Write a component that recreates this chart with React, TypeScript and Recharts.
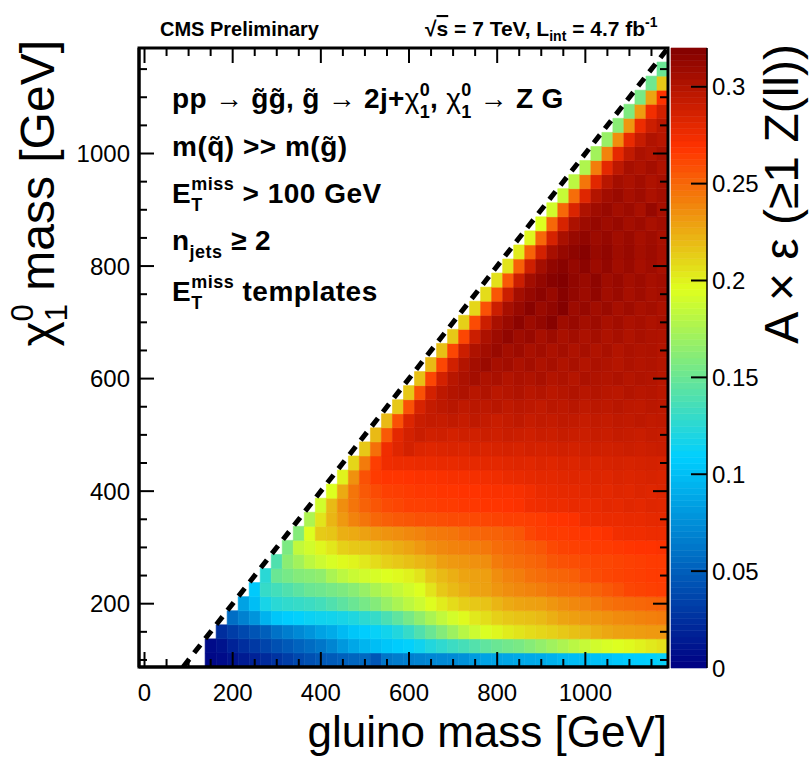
import React from 'react';
import { ComposedChart, XAxis, YAxis, ReferenceArea, ReferenceLine } from 'recharts';

// ---------------- data ----------------
// gluino mass bin centres [GeV]
const GLUINO_MASSES = [150, 175, 200, 225, 250, 275, 300, 325, 350, 375, 400, 425, 450, 475, 500, 525, 550, 575, 600, 625, 650, 675, 700, 725, 750, 775, 800, 825, 850, 875, 900, 925, 950, 975, 1000, 1025, 1050, 1075, 1100, 1125, 1150, 1175];
// neutralino mass bin centres [GeV]
const CHI_MASSES = [100, 125, 150, 175, 200, 225, 250, 275, 300, 325, 350, 375, 400, 425, 450, 475, 500, 525, 550, 575, 600, 625, 650, 675, 700, 725, 750, 775, 800, 825, 850, 875, 900, 925, 950, 975, 1000, 1025, 1050, 1075, 1100, 1125, 1150];
const BIN_WIDTH = 25;

// A x eff (x 1000) per neutralino-mass row; each row ends at the last gluino bin (1175)
const eff100 = [4, 6, 10, 14, 18, 22, 27, 32, 38, 42, 46, 48, 51, 53, 55, 45, 62, 65, 67, 69, 71, 72, 73, 76, 82, 85, 86, 87, 89, 89, 90, 93, 97, 99, 100, 101, 102, 105, 107, 108, 109, 112];
const eff125 = [6, 10, 18, 24, 30, 36, 42, 47, 52, 57, 62, 70, 80, 88, 95, 100, 104, 107, 110, 115, 122, 127, 132, 136, 141, 146, 150, 153, 156, 161, 166, 171, 176, 181, 186, 190, 193, 195, 197, 200, 203, 206];
const eff150 = [24, 32, 38, 44, 50, 60, 66, 72, 78, 85, 90, 98, 104, 108, 112, 116, 122, 130, 140, 150, 160, 170, 180, 188, 194, 198, 202, 205, 208, 210, 212, 215, 218, 220, 224, 227, 229, 230, 231, 232, 232];
const eff175 = [58, 68, 78, 94, 104, 108, 110, 113, 115, 116, 118, 121, 126, 130, 138, 146, 155, 165, 175, 184, 191, 197, 203, 207, 212, 215, 217, 218, 220, 224, 228, 230, 232, 233, 235, 237, 238, 240, 241, 242];
const eff200 = [85, 100, 118, 125, 128, 130, 132, 135, 140, 145, 150, 155, 160, 168, 175, 182, 188, 196, 202, 208, 213, 215, 217, 222, 226, 228, 229, 230, 233, 236, 238, 240, 243, 246, 248, 249, 250, 251, 252];
const eff225 = [106, 130, 135, 140, 145, 150, 152, 155, 158, 162, 168, 175, 180, 185, 190, 195, 205, 215, 220, 224, 228, 229, 233, 236, 238, 240, 242, 245, 247, 248, 250, 252, 255, 258, 262, 263, 264, 265];
const eff250 = [125, 150, 155, 160, 162, 165, 175, 182, 187, 190, 192, 195, 197, 200, 205, 215, 220, 224, 228, 229, 230, 236, 240, 242, 246, 248, 250, 251, 253, 258, 260, 262, 263, 264, 265, 266, 266];
const eff275 = [140, 163, 172, 182, 188, 193, 197, 199, 203, 208, 212, 215, 218, 221, 224, 230, 232, 233, 235, 236, 243, 246, 248, 250, 252, 256, 258, 259, 261, 262, 262, 263, 264, 265, 266, 266];
const eff300 = [157, 184, 190, 198, 204, 212, 215, 216, 219, 222, 225, 228, 232, 236, 238, 240, 241, 242, 244, 248, 250, 252, 254, 256, 261, 263, 264, 265, 266, 266, 267, 268, 269, 269, 270];
const eff325 = [160, 195, 214, 216, 224, 226, 229, 232, 234, 236, 238, 240, 243, 244, 245, 248, 250, 251, 252, 254, 256, 262, 265, 266, 266, 267, 268, 268, 270, 274, 275, 275, 276, 276];
const eff350 = [176, 205, 222, 232, 240, 245, 250, 253, 255, 256, 258, 258, 259, 260, 260, 261, 262, 263, 264, 264, 265, 266, 268, 269, 270, 275, 276, 277, 277, 278, 278, 279, 279];
const eff375 = [190, 220, 236, 245, 252, 256, 260, 262, 264, 264, 265, 266, 266, 267, 267, 268, 268, 269, 270, 274, 275, 276, 276, 278, 277, 278, 280, 279, 281, 280, 282, 281];
const eff400 = [195, 226, 245, 255, 260, 264, 265, 266, 267, 267, 268, 268, 269, 269, 270, 271, 271, 272, 274, 277, 278, 279, 279, 280, 281, 280, 282, 281, 283, 282, 283];
const eff425 = [200, 235, 258, 266, 268, 268, 269, 270, 270, 271, 272, 272, 273, 274, 275, 277, 278, 279, 280, 280, 281, 282, 281, 283, 282, 284, 283, 284, 285, 284];
const eff450 = [210, 243, 265, 275, 276, 276, 277, 277, 278, 278, 279, 279, 280, 280, 281, 282, 281, 283, 282, 284, 283, 285, 284, 285, 286, 285, 286, 287, 286];
const eff475 = [215, 247, 275, 282, 287, 283, 282, 283, 284, 283, 285, 284, 285, 286, 285, 287, 286, 287, 288, 287, 288, 289, 288, 289, 290, 289, 290, 291];
const eff500 = [220, 255, 280, 287, 291, 288, 289, 287, 289, 288, 290, 289, 291, 290, 289, 291, 290, 292, 291, 290, 292, 291, 293, 292, 291, 293, 292];
const eff525 = [220, 258, 283, 291, 293, 292, 294, 292, 295, 293, 291, 293, 295, 292, 294, 293, 295, 294, 292, 294, 293, 295, 294, 296, 294, 295];
const eff550 = [215, 258, 285, 293, 296, 298, 295, 297, 296, 298, 295, 297, 296, 294, 297, 296, 298, 295, 297, 296, 298, 296, 295, 297, 296];
const eff575 = [215, 258, 287, 296, 300, 302, 298, 301, 297, 299, 301, 298, 300, 297, 299, 301, 298, 300, 298, 297, 300, 298, 299, 297];
const eff600 = [218, 262, 287, 298, 303, 306, 302, 304, 300, 303, 301, 304, 300, 302, 299, 303, 301, 300, 302, 299, 301, 300, 298];
const eff625 = [220, 262, 288, 300, 306, 310, 305, 307, 303, 306, 302, 305, 301, 304, 300, 303, 301, 299, 302, 300, 301, 299];
const eff650 = [218, 262, 290, 302, 307, 311, 306, 309, 304, 307, 303, 306, 302, 305, 301, 304, 300, 303, 301, 302, 300];
const eff675 = [215, 262, 290, 303, 309, 314, 308, 311, 305, 309, 304, 307, 303, 306, 302, 305, 301, 304, 302, 301];
const eff700 = [212, 260, 290, 304, 310, 316, 309, 313, 318, 308, 311, 306, 309, 304, 307, 303, 305, 302, 304];
const eff725 = [210, 258, 290, 305, 311, 317, 310, 314, 319, 309, 312, 307, 310, 305, 308, 304, 306, 303];
const eff750 = [208, 256, 290, 306, 312, 316, 311, 318, 313, 309, 314, 307, 310, 305, 308, 304, 306];
const eff775 = [206, 255, 290, 307, 313, 318, 320, 314, 310, 315, 308, 311, 306, 309, 305, 307];
const eff800 = [205, 253, 289, 306, 314, 317, 312, 316, 309, 313, 307, 310, 305, 308, 304];
const eff825 = [202, 252, 287, 305, 312, 315, 318, 311, 314, 308, 311, 306, 309, 305];
const eff850 = [198, 250, 286, 304, 311, 314, 309, 312, 307, 310, 305, 308, 304];
const eff875 = [195, 250, 285, 303, 309, 312, 308, 311, 306, 309, 304, 307];
const eff900 = [190, 250, 284, 302, 308, 311, 306, 309, 304, 312, 305];
const eff925 = [186, 248, 282, 300, 307, 310, 305, 308, 303, 306];
const eff950 = [182, 245, 281, 298, 306, 303, 307, 302, 305];
const eff975 = [177, 242, 280, 296, 305, 302, 306, 301];
const eff1000 = [172, 240, 279, 294, 303, 300, 304];
const eff1025 = [168, 236, 278, 292, 301, 298];
const eff1050 = [162, 233, 276, 290, 297];
const eff1075 = [158, 231, 274, 288];
const eff1100 = [156, 228, 270];
const eff1125 = [152, 215];
const eff1150 = [150];

const EFF_ROWS = [eff100, eff125, eff150, eff175, eff200, eff225, eff250, eff275, eff300, eff325, eff350, eff375, eff400, eff425, eff450, eff475, eff500, eff525, eff550, eff575, eff600, eff625, eff650, eff675, eff700, eff725, eff750, eff775, eff800, eff825, eff850, eff875, eff900, eff925, eff950, eff975, eff1000, eff1025, eff1050, eff1075, eff1100, eff1125, eff1150];

// axes
const X_RANGE: [number, number] = [-12.5, 1187.5];
const Y_RANGE: [number, number] = [87.5, 1187.5];
const X_TICKS = [0, 50, 100, 150, 200, 250, 300, 350, 400, 450, 500, 550, 600, 650, 700, 750, 800, 850, 900, 950, 1000, 1050, 1100, 1150];
const Y_TICKS = [100, 150, 200, 250, 300, 350, 400, 450, 500, 550, 600, 650, 700, 750, 800, 850, 900, 950, 1000, 1050, 1100, 1150];
const LABEL_STEP = 200;
const Z_RANGE: [number, number] = [0, 0.32];
const Z_TICKS = [0, 0.05, 0.1, 0.15, 0.2, 0.25, 0.3];
// kinematic limit m(chi) = m(gluino)
const DIAGONAL = [87.5, 1187.5];

// ---------------- style ----------------
const W = 809;
const H = 759;
const PLOT_LEFT = 139;
const PLOT_RIGHT = 668;
const PLOT_TOP = 48;
const PLOT_BOTTOM = 667;
const PLOT_W = PLOT_RIGHT - PLOT_LEFT;
const PLOT_H = PLOT_BOTTOM - PLOT_TOP;
const BAR_LEFT = 671;
const BAR_RIGHT = 707;
const BAR_BOTTOM = 668;
const PALETTE_LEVELS = 100;
const FONT = "'Liberation Sans', Arial, Helvetica, sans-serif";
const MAJOR = 15;
const MINOR = 8;

// ROOT-like palette stops
const STOPS: [number, number, number, number][] = [
  [0.0, 0, 0, 130],
  [0.34, 0, 207, 255],
  [0.61, 222, 255, 31],
  [0.84, 255, 51, 0],
  [1.0, 130, 0, 0],
];

function colorFor(v: number): string {
  let t = (v - Z_RANGE[0]) / (Z_RANGE[1] - Z_RANGE[0]);
  t = Math.max(0, Math.min(1, t));
  for (let i = 0; i < STOPS.length - 1; i++) {
    const a = STOPS[i];
    const b = STOPS[i + 1];
    if (t <= b[0]) {
      const f = (t - a[0]) / (b[0] - a[0]);
      const r = Math.round(a[1] + (b[1] - a[1]) * f);
      const g = Math.round(a[2] + (b[2] - a[2]) * f);
      const bl = Math.round(a[3] + (b[3] - a[3]) * f);
      return `rgb(${r},${g},${bl})`;
    }
  }
  return 'rgb(130,0,0)';
}

type Cell = { x: number; y: number; v: number };
const CELLS: Cell[] = [];
CHI_MASSES.forEach((chi, j) => {
  const row = EFF_ROWS[j];
  const offset = GLUINO_MASSES.length - row.length;
  row.forEach((val, k) => {
    CELLS.push({ x: GLUINO_MASSES[offset + k], y: chi, v: val / 1000 });
  });
});

// colour-bar bands (palette levels)
const BANDS: { lo: number; hi: number; color: string }[] = [];
for (let i = 0; i < PALETTE_LEVELS; i++) {
  const span = Z_RANGE[1] - Z_RANGE[0];
  const lo = Z_RANGE[0] + (span * i) / PALETTE_LEVELS;
  const hi = Z_RANGE[0] + (span * (i + 1)) / PALETTE_LEVELS;
  BANDS.push({ lo, hi, color: colorFor((lo + hi) / 2) });
}

const XTick = (props: any) => {
  const { x, y, payload } = props;
  const v = payload.value;
  const major = v % LABEL_STEP === 0;
  const len = major ? MAJOR : MINOR;
  return (
    <g>
      <line x1={x} y1={y} x2={x} y2={y - len} stroke="#000" strokeWidth={2} />
      <line x1={x} y1={y - PLOT_H} x2={x} y2={y - PLOT_H + len} stroke="#000" strokeWidth={2} />
      {major ? (
        <text x={x} y={y + 34} textAnchor="middle" fontSize={24} fontFamily={FONT} fill="#000">
          {v}
        </text>
      ) : null}
    </g>
  );
};

const YTick = (props: any) => {
  const { x, y, payload } = props;
  const v = payload.value;
  const major = v % LABEL_STEP === 0;
  const len = major ? MAJOR : MINOR;
  return (
    <g>
      <line x1={x} y1={y} x2={x + len} y2={y} stroke="#000" strokeWidth={2} />
      <line x1={x + PLOT_W} y1={y} x2={x + PLOT_W - len} y2={y} stroke="#000" strokeWidth={2} />
      {major ? (
        <text x={x - 9} y={y + 8.5} textAnchor="end" fontSize={24} fontFamily={FONT} fill="#000">
          {v}
        </text>
      ) : null}
    </g>
  );
};

const ZTick = (props: any) => {
  const { x, y, payload } = props;
  const v = payload.value;
  return (
    <g>
      {v > Z_RANGE[0] ? <line x1={x} y1={y} x2={x - 16} y2={y} stroke="#000" strokeWidth={2} /> : null}
      <text x={x + 5} y={y + 8.5} textAnchor="start" fontSize={24} fontFamily={FONT} fill="#000">
        {String(v)}
      </text>
    </g>
  );
};

const abs: React.CSSProperties = { position: 'absolute', left: 0, top: 0 };

export default function App() {
  return (
    <div style={{ position: 'absolute', left: 0, top: 0, width: W, height: H, background: '#fff', overflow: 'hidden' }}>
      {/* heat-map cells */}
      <div style={abs}>
        <ComposedChart
          width={W}
          height={H}
          margin={{ top: PLOT_TOP, right: W - PLOT_RIGHT, bottom: H - PLOT_BOTTOM, left: PLOT_LEFT }}
        >
          <XAxis type="number" dataKey="x" domain={X_RANGE} allowDataOverflow hide height={0} />
          <YAxis type="number" dataKey="y" domain={Y_RANGE} allowDataOverflow hide width={0} />
          {CELLS.map((c) => {
            const col = colorFor(c.v);
            return (
              <ReferenceArea
                key={`${c.x}-${c.y}`}
                x1={c.x - BIN_WIDTH / 2}
                x2={c.x + BIN_WIDTH / 2}
                y1={c.y - BIN_WIDTH / 2}
                y2={c.y + BIN_WIDTH / 2}
                fill={col}
                fillOpacity={1}
                stroke={col}
                strokeWidth={0.6}
              />
            );
          })}
        </ComposedChart>
      </div>
      {/* colour bar fill */}
      <div style={abs}>
        <ComposedChart
          width={W}
          height={H}
          margin={{ top: PLOT_TOP, right: W - BAR_RIGHT, bottom: H - BAR_BOTTOM, left: BAR_LEFT }}
        >
          <XAxis type="number" dataKey="x" domain={[0, 1]} allowDataOverflow hide height={0} />
          <YAxis type="number" dataKey="z" domain={Z_RANGE} allowDataOverflow hide width={0} />
          {BANDS.map((b) => (
            <ReferenceArea
              key={b.lo}
              x1={0}
              x2={1}
              y1={b.lo}
              y2={b.hi}
              fill={b.color}
              fillOpacity={1}
              stroke={b.color}
              strokeWidth={0.6}
            />
          ))}
        </ComposedChart>
      </div>
      {/* axes, frame, kinematic limit */}
      <div style={abs}>
        <ComposedChart
          width={W}
          height={H}
          margin={{ top: PLOT_TOP, right: W - PLOT_RIGHT, bottom: H - PLOT_BOTTOM - 30, left: 0 }}
        >
          <XAxis
            type="number"
            dataKey="x"
            domain={X_RANGE}
            ticks={X_TICKS}
            interval={0}
            allowDataOverflow
            height={30}
            tickLine={false}
            tickSize={0}
            tickMargin={0}
            axisLine={{ stroke: '#000', strokeWidth: 3 }}
            tick={(p: any) => <XTick {...p} />}
          />
          <YAxis
            type="number"
            dataKey="y"
            domain={Y_RANGE}
            ticks={Y_TICKS}
            interval={0}
            allowDataOverflow
            width={PLOT_LEFT}
            tickLine={false}
            tickSize={0}
            tickMargin={0}
            axisLine={{ stroke: '#000', strokeWidth: 3 }}
            tick={(p: any) => <YTick {...p} />}
          />
          <ReferenceLine
            segment={[
              { x: DIAGONAL[0], y: DIAGONAL[0] },
              { x: DIAGONAL[1], y: DIAGONAL[1] },
            ]}
            stroke="#000"
            strokeWidth={5}
            strokeDasharray="10 8"
            ifOverflow="hidden"
          />
          <ReferenceArea
            x1={X_RANGE[0]}
            x2={X_RANGE[1]}
            y1={Y_RANGE[0]}
            y2={Y_RANGE[1]}
            fill="none"
            fillOpacity={0}
            stroke="#000"
            strokeWidth={3}
          />
        </ComposedChart>
      </div>
      {/* colour bar axis */}
      <div style={abs}>
        <ComposedChart
          width={W}
          height={H}
          margin={{ top: PLOT_TOP, right: 0, bottom: H - BAR_BOTTOM, left: BAR_LEFT }}
        >
          <XAxis type="number" dataKey="x" domain={[0, 1]} hide height={0} />
          <YAxis
            type="number"
            dataKey="z"
            orientation="right"
            domain={Z_RANGE}
            ticks={Z_TICKS}
            interval={0}
            allowDataOverflow
            width={W - BAR_RIGHT}
            tickLine={false}
            tickSize={0}
            tickMargin={0}
            axisLine={{ stroke: '#000', strokeWidth: 1.5 }}
            tick={(p: any) => <ZTick {...p} />}
          />
        </ComposedChart>
      </div>
      <svg width={W} height={H} style={{ ...abs, pointerEvents: 'none' }} fontFamily={FONT}>
        <text x={160} y={36} fontSize={20} fontWeight="bold">CMS Preliminary</text>
        <text x={425} y={36} fontSize={21} fontWeight="bold">
          √<tspan style={{ textDecoration: 'overline' }}>s</tspan> = 7 TeV, L
          <tspan fontSize={14} dy={5}>int</tspan>
          <tspan dy={-5}> = 4.7 fb</tspan>
          <tspan fontSize={14} dy={-9}>-1</tspan>
        </text>
        <g fontWeight="bold">
          <text x={172} y={108} fontSize={28} letterSpacing={0.3}>
            pp → g̃g̃, g̃ → 2j+
            <tspan fontWeight="normal">χ</tspan>
            <tspan fontSize={18} dy={-12}>0</tspan>
            <tspan fontSize={18} dx={-10.3} dy={22}>1</tspan>
            <tspan dy={-10}>, </tspan>
            <tspan fontWeight="normal">χ</tspan>
            <tspan fontSize={18} dy={-12}>0</tspan>
            <tspan fontSize={18} dx={-10.3} dy={22}>1</tspan>
            <tspan dy={-10}> → Z G</tspan>
          </text>
          <text x={172} y={156} fontSize={28} letterSpacing={0.5}>m(q̃) {'>>'} m(g̃)</text>
          <text x={172} y={203} fontSize={28} letterSpacing={0.5}>
            E<tspan fontSize={18} dy={8}>T</tspan>
            <tspan fontSize={18} dx={-11.5} dy={-21}>miss</tspan>
            <tspan dy={13}> {'>'} 100 GeV</tspan>
          </text>
          <text x={172} y={250} fontSize={28} letterSpacing={0.5}>
            n<tspan fontSize={18} dy={8}>jets</tspan>
            <tspan dy={-8}> ≥ 2</tspan>
          </text>
          <text x={172} y={301} fontSize={28} letterSpacing={0.5}>
            E<tspan fontSize={18} dy={8}>T</tspan>
            <tspan fontSize={18} dx={-11.5} dy={-21}>miss</tspan>
            <tspan dy={13}> templates</tspan>
          </text>
        </g>
        <text x={667} y={747} textAnchor="end" fontSize={44}>gluino mass [GeV]</text>
        <text transform="rotate(-90)" x={-40} y={54} textAnchor="end" fontSize={48}>
          χ<tspan fontSize={31} dy={-21}>0</tspan>
          <tspan fontSize={31} dx={-17.2} dy={34}>1</tspan>
          <tspan dy={-13}> mass [GeV]</tspan>
        </text>
        <text transform="rotate(-90)" x={-44} y={798} textAnchor="end" fontSize={48}>
          A × ε (≥1 Z(ll))
        </text>
      </svg>
    </div>
  );
}
